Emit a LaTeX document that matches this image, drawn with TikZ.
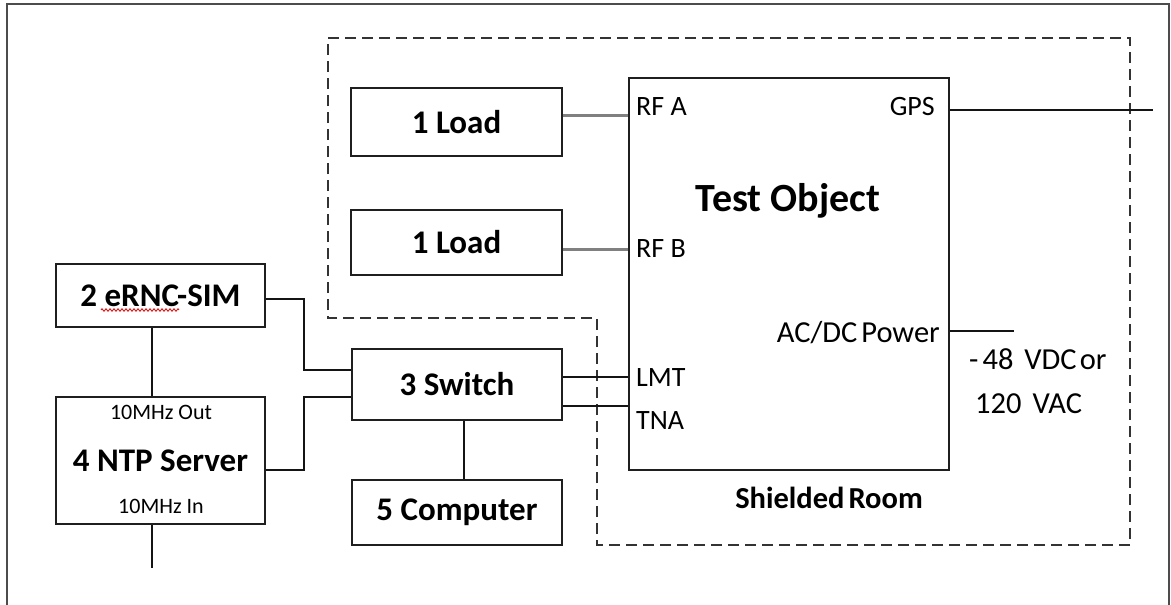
\documentclass[tikz,border=0pt]{standalone}
\usepackage{fontspec}
\setmainfont{Carlito}
\usetikzlibrary{decorations.pathmorphing}

\begin{document}
\begin{tikzpicture}[x=1pt,y=-1pt,
  box/.style={draw=black!88, line width=2pt, inner sep=0pt, align=center,
    font=\bfseries\fontsize{33}{36}\selectfont},
  wire/.style={draw=black!92, line width=1.8pt},
  rfwire/.style={draw=black!50, line width=3pt},
  room/.style={draw=black!80, line width=2pt, dash pattern=on 11pt off 6pt},
  port/.style={inner sep=0pt, font=\fontsize{28}{30}\selectfont},
  bigport/.style={inner sep=0pt, font=\fontsize{30.5}{32}\selectfont},
  small/.style={inner sep=0pt, font=\fontsize{22}{24}\selectfont},
  frame/.style={draw=black!70, line width=2pt},
  spell/.style={draw=red!85!black, line width=0.8pt,
    decorate, decoration={zigzag, segment length=4pt, amplitude=1.3pt}}]

\useasboundingbox (0,0) rectangle (1171,605);
\clip (0,0) rectangle (1171,605);

% outer frame (open below the page edge)
\draw[frame] (7,640) -- (7,4) -- (1169,4) -- (1169,640);

% shielded room outline
\draw[room] (328,38) -- (1130,38) -- (1130,545) -- (597,545)
  -- (597,318) -- (328,318) -- cycle;

% devices
\node[box, minimum width=211pt, minimum height=68pt] (load1) at (456.5,122) {1 Load};
\node[box, minimum width=211pt, minimum height=65pt] (load2) at (456.5,242.5) {1 Load};
\node[box, minimum width=210pt, minimum height=71pt] (switch) at (457,384.5) {3 Switch};
\node[box, minimum width=210pt, minimum height=65pt] (computer) at (457,512.5) {5 Computer};
\node[box, minimum width=209pt, minimum height=63pt] (ernc) at (160.5,295.5) {2 eRNC-SIM};
\node[box, minimum width=209pt, minimum height=127pt] (ntp) at (160.5,460.5) {};
\node[box, minimum width=320pt, minimum height=392pt] (test) at (789,274) {};

% NTP server texts
\node[small, anchor=base] (ntpout) at (161,419) {10MHz Out};
\node[inner sep=0pt, anchor=base, font=\bfseries\fontsize{33}{36}\selectfont] (ntpname) at (160.5,471) {4 NTP Server};
\node[small, anchor=base] (ntpin) at (161,513) {10MHz In};

% spell-check mark under the simulator name
\coordinate (sq1) at (101,310);
\coordinate (sq2) at (179,310);
\draw[spell] (sq1) -- (sq2);

% test object texts and ports
\node[inner sep=0pt, anchor=base, font=\bfseries\fontsize{40}{42}\selectfont] (testname) at (788,211) {Test Object};
\node[port, anchor=base west] (rfa) at (636,115) {RF A};
\node[port, anchor=base west] (rfb) at (636,257) {RF B};
\node[port, anchor=base east] (gps) at (935,115) {GPS};
\node[bigport, anchor=base east] (power) at (940,342) {AC/DC\hspace{4pt}Power};
\node[port, anchor=base west] (lmt) at (636,386) {LMT};
\node[port, anchor=base west] (tna) at (636,429) {TNA};
\node[bigport, anchor=base west] (vdc) at (969,369) {-\hspace{4pt}48\hspace{11pt}VDC\hspace{3pt}or};
\node[bigport, anchor=base west] (vac) at (975,413) {120\hspace{11pt}VAC};
\node[inner sep=0pt, anchor=base, font=\bfseries\fontsize{30.5}{32}\selectfont] (roomname) at (829,508) {Shielded\hspace{4pt}Room};

% connector levels and free ends
\coordinate (ya) at (0,115);
\coordinate (yb) at (0,249);
\coordinate (yl) at (0,377);
\coordinate (yt) at (0,406);
\coordinate (ygps) at (0,110);
\coordinate (ypow) at (0,331);
\coordinate (gpsend) at (1153,110);
\coordinate (powend) at (1014,331);
\coordinate (xref) at (152,0);
\coordinate (refend) at (152,568);
\coordinate (xpc) at (464,0);
\coordinate (j1a) at (304,299);
\coordinate (j1b) at (304,370);
\coordinate (j2a) at (304,470);
\coordinate (j2b) at (304,397);

% RF cabling to the loads
\draw[rfwire] (load1.east |- ya) -- (test.west |- ya);
\draw[rfwire] (load2.east |- yb) -- (test.west |- yb);

% network cabling
\draw[wire] (switch.east |- yl) -- (test.west |- yl);
\draw[wire] (switch.east |- yt) -- (test.west |- yt);
\draw[wire] (ernc.east |- j1a) -- (j1a) -- (j1b) -- (switch.west |- j1b);
\draw[wire] (ntp.east |- j2a) -- (j2a) -- (j2b) -- (switch.west |- j2b);
\draw[wire] (switch.south -| xpc) -- (computer.north -| xpc);

% 10 MHz reference chain
\draw[wire] (ernc.south -| xref) -- (ntp.north -| xref);
\draw[wire] (ntp.south -| xref) -- (refend);

% GPS antenna and power feed
\draw[wire] (test.east |- ygps) -- (gpsend);
\draw[wire] (test.east |- ypow) -- (powend);
\end{tikzpicture}
\end{document}
